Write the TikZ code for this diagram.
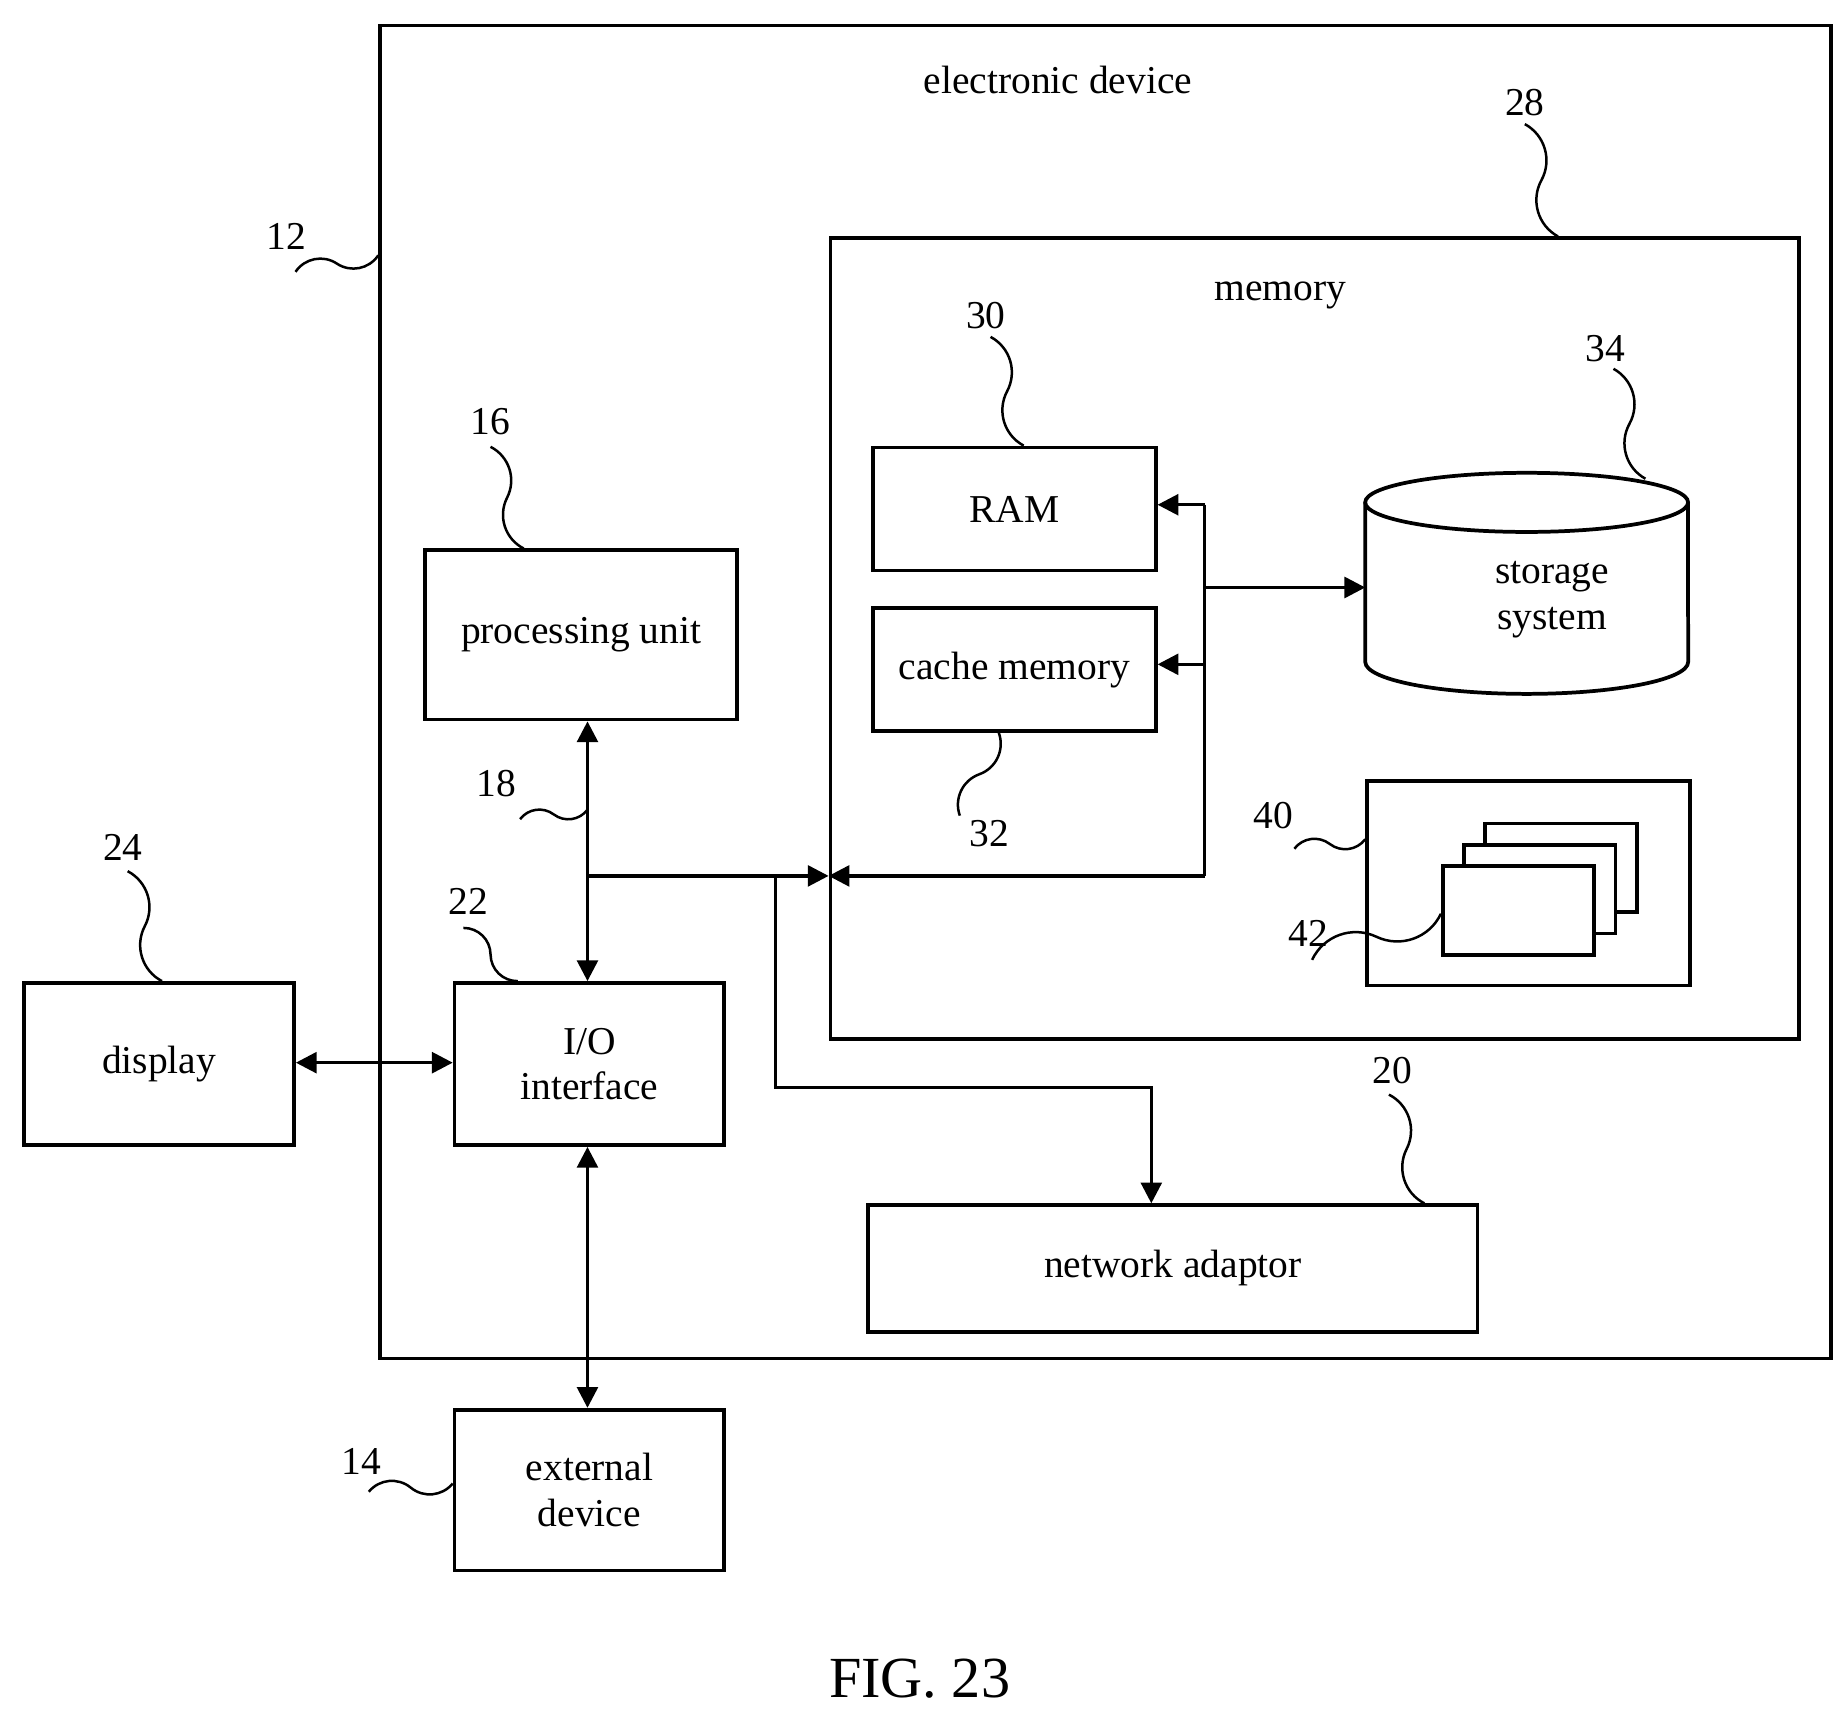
\documentclass[tikz,border=0pt]{standalone}
\usepackage{fontspec}
\setmainfont{Liberation Serif}
\usetikzlibrary{arrows.meta,calc,shapes.geometric}
\begin{document}
\begin{tikzpicture}[x=0.01cm,y=-0.01cm,
  box/.style={draw,line width=0.9pt,inner sep=0pt,align=center,font=\fontsize{9.5}{11}\selectfont},
  lbl/.style={font=\fontsize{9.5}{11}\selectfont,inner sep=1pt},
  ln/.style={line width=0.8pt},
  arr/.style={ln,-{Triangle[length=5pt,width=5pt]}},
  darr/.style={ln,{Triangle[length=5pt,width=5pt]}-{Triangle[length=5pt,width=5pt]}},
  sq/.style={line width=0.6pt}]
\useasboundingbox (0,0) rectangle (1560,1448);
\newcommand{\sqg}[2]{\draw[sq] (#1) to[bend left=45] ($(#1)!.5!(#2)$) to[bend right=45] (#2);}
% outer
\node[box,minimum width=12.27cm,minimum height=11.27cm,anchor=north west] (dev) at (320,20) {};
\node[lbl] (devt) at (895,68) {electronic device};
\node[lbl] (l12) at (242,200) {12};
\coordinate (d12) at (320,216);
\sqg{250,230}{d12}
% memory
\node[box,minimum width=8.19cm,minimum height=6.77cm,anchor=north west] (mem) at (701,200) {};
\node[lbl] (memt) at (1083,250) {memory};
\node[lbl] (l28) at (1290,87) {28};
\coordinate (d28) at (1318,200);
\sqg{1290,105}{d28}
\node[box,minimum width=2.39cm,minimum height=1.04cm,anchor=north west] (ram) at (737,377) {};
\node[lbl] at (ram.center) {RAM};
\node[lbl] (l30) at (834,267) {30};
\coordinate (d30) at (866,377);
\sqg{838,285}{d30}
\node[box,minimum width=2.39cm,minimum height=1.04cm,anchor=north west] (cache) at (737,513) {};
\node[lbl] at (cache.center) {cache memory};
\node[lbl] (l32) at (837,705) {32};
\coordinate (d32) at (845,620);
\sqg{d32}{812,690}
% storage cylinder
\draw[line width=0.9pt] (1155,425) -- (1155,560) arc[start angle=180,end angle=360,x radius=1.365cm,y radius=0.27cm] -- (1428,425);
\draw[line width=0.9pt] (1291.5,425) ellipse[x radius=1.365cm,y radius=0.25cm];
\coordinate (stor) at (1155,497);
\node[lbl,align=center] (stt) at (1313,507) {storage\\system};
\node[lbl] (l34) at (1358,295) {34};
\coordinate (d34) at (1392,405);
\sqg{1365,312}{d34}
% box 40
\node[box,minimum width=2.73cm,minimum height=1.73cm,anchor=north west] (b40) at (1155,659) {};
\node[box,fill=white,minimum width=1.28cm,minimum height=0.75cm,anchor=north west] (p1) at (1255,695) {};
\node[box,fill=white,minimum width=1.28cm,minimum height=0.75cm,anchor=north west] (p2) at (1237,713) {};
\node[box,fill=white,minimum width=1.28cm,minimum height=0.75cm,anchor=north west] (p3) at (1219,731) {};
\node[lbl] (l40) at (1077,690) {40};
\sqg{1095,718}{1155,710}
\node[lbl] (l42) at (1107,790) {42};
\sqg{1110,812}{1219,773}
% bus in memory
\coordinate (b1) at (1019,427);
\coordinate (b2) at (1019,562);
\coordinate (b3) at (1019,497);
\coordinate (b4) at (1019,741);
\coordinate (mi) at (701,741);
\draw[ln] (b1) -- (b4);
\draw[arr] (b1) -- (ram.east|-b1);
\draw[arr] (b2) -- (cache.east|-b2);
\draw[arr] (b3) -- (stor);
\draw[arr] (b4) -- (mi);
% processing
\node[box,minimum width=2.64cm,minimum height=1.43cm,anchor=north west] (pu) at (358,464) {};
\node[lbl] at (pu.center) {processing unit};
\node[lbl] (l16) at (415,357) {16};
\coordinate (d16) at (443,464);
\sqg{415,378}{d16}
\node[box,minimum width=2.28cm,minimum height=1.37cm,anchor=north west] (io) at (383,830) {};
\node[lbl,align=center] at (io.center) {I/O\\interface};
\node[lbl] (l22) at (396,763) {22};
\sqg{392,785}{438,830}
\draw[darr] (pu.south-|497,0) -- (io.north-|497,0);
\coordinate (j) at (497,741);
\coordinate (k) at (656,741);
\draw[arr] (j) -- (mi);
\node[lbl] (l18) at (420,663) {18};
\sqg{440,693}{497,685}
% network adaptor
\node[box,minimum width=5.15cm,minimum height=1.07cm,anchor=north west] (na) at (733,1018) {};
\node[lbl] at (na.center) {network adaptor};
\node[lbl] (l20) at (1178,906) {20};
\sqg{1175,926}{1205,1018}
\draw[arr] (k) |- (974,920) -- (974,1018);
% display
\node[box,minimum width=2.28cm,minimum height=1.37cm,anchor=north west] (disp) at (19,830) {};
\node[lbl] at (disp.center) {display};
\node[lbl] (l24) at (104,717) {24};
\sqg{108,737}{137,830}
\draw[darr] (disp.east|-0,899) -- (io.west|-0,899);
% external
\node[box,minimum width=2.28cm,minimum height=1.36cm,anchor=north west] (ext) at (383,1191) {};
\node[lbl,align=center] at (ext.center) {external\\device};
\node[lbl] (l14) at (306,1236) {14};
\sqg{312,1262}{383,1255}
\draw[darr] (io.south-|497,0) -- (ext.north-|497,0);
\node[font=\fontsize{14}{16}\selectfont] (fig) at (778,1420) {FIG. 23};
\end{tikzpicture}
\end{document}
